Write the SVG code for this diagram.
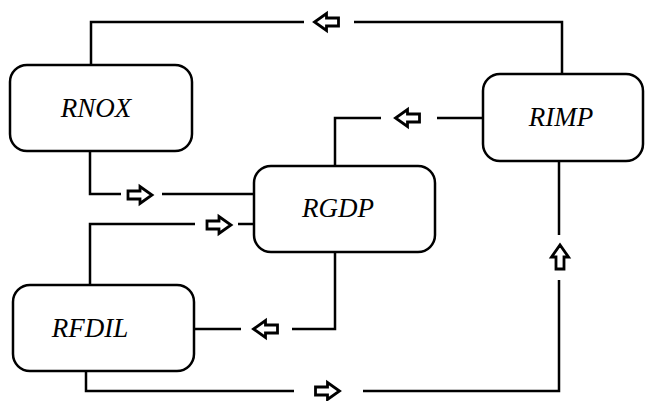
<svg xmlns="http://www.w3.org/2000/svg" width="654" height="401" viewBox="0 0 654 401">
<style>
.box{fill:#fff;stroke:#000;stroke-width:2.5}
.ln{fill:none;stroke:#000;stroke-width:2.5}
.ar{fill:#fff;stroke:#000;stroke-width:2.8;stroke-linejoin:miter}
text{font-family:"Liberation Serif","Times New Roman",serif;font-style:italic;font-size:27px;text-anchor:middle;fill:#000}
</style>
<defs>
<path id="arr" d="M-12,-4 H0 V-8.5 L12,0 L0,8.5 V4 H-12 Z"/>
</defs>
<g id="connectors">
<polyline class="ln" points="91,65 91,22 304,22"/>
<polyline class="ln" points="354,22 562,22 562,74"/>
<use href="#arr" class="ar" transform="translate(326.5,22) rotate(180)"/>
<line class="ln" x1="482" y1="118" x2="437" y2="118"/>
<polyline class="ln" points="381,118 335,118 335,166"/>
<use href="#arr" class="ar" transform="translate(407.5,118) rotate(180)"/>
<polyline class="ln" points="90,151 90,194 121,194"/>
<line class="ln" x1="162" y1="194" x2="253" y2="194"/>
<use href="#arr" class="ar" transform="translate(140,195)"/>
<polyline class="ln" points="90,285 90,224 195,224"/>
<line class="ln" x1="238" y1="224" x2="253" y2="224"/>
<use href="#arr" class="ar" transform="translate(219,225)"/>
<polyline class="ln" points="335,252 335,329 292,329"/>
<line class="ln" x1="241" y1="329" x2="195" y2="329"/>
<use href="#arr" class="ar" transform="translate(265.5,329) rotate(180)"/>
<polyline class="ln" points="86,371 86,391 294,391"/>
<polyline class="ln" points="363,391 559,391 559,280"/>
<use href="#arr" class="ar" transform="translate(327.5,391)"/>
<line class="ln" x1="559" y1="235" x2="559" y2="161"/>
<use href="#arr" class="ar" transform="translate(560,257) rotate(-90)"/>
</g>
<g id="RNOX">
<rect class="box" x="10" y="65" width="182" height="86" rx="17"/>
<text x="96" y="117">RNOX</text>
</g>
<g id="RIMP">
<rect class="box" x="483" y="74" width="160" height="87" rx="17"/>
<text x="561" y="126">RIMP</text>
</g>
<g id="RGDP">
<rect class="box" x="254" y="166" width="181" height="86" rx="17"/>
<text x="338" y="217">RGDP</text>
</g>
<g id="RFDIL">
<rect class="box" x="13" y="285" width="181" height="86" rx="17"/>
<text x="90" y="337">RFDIL</text>
</g>
</svg>
